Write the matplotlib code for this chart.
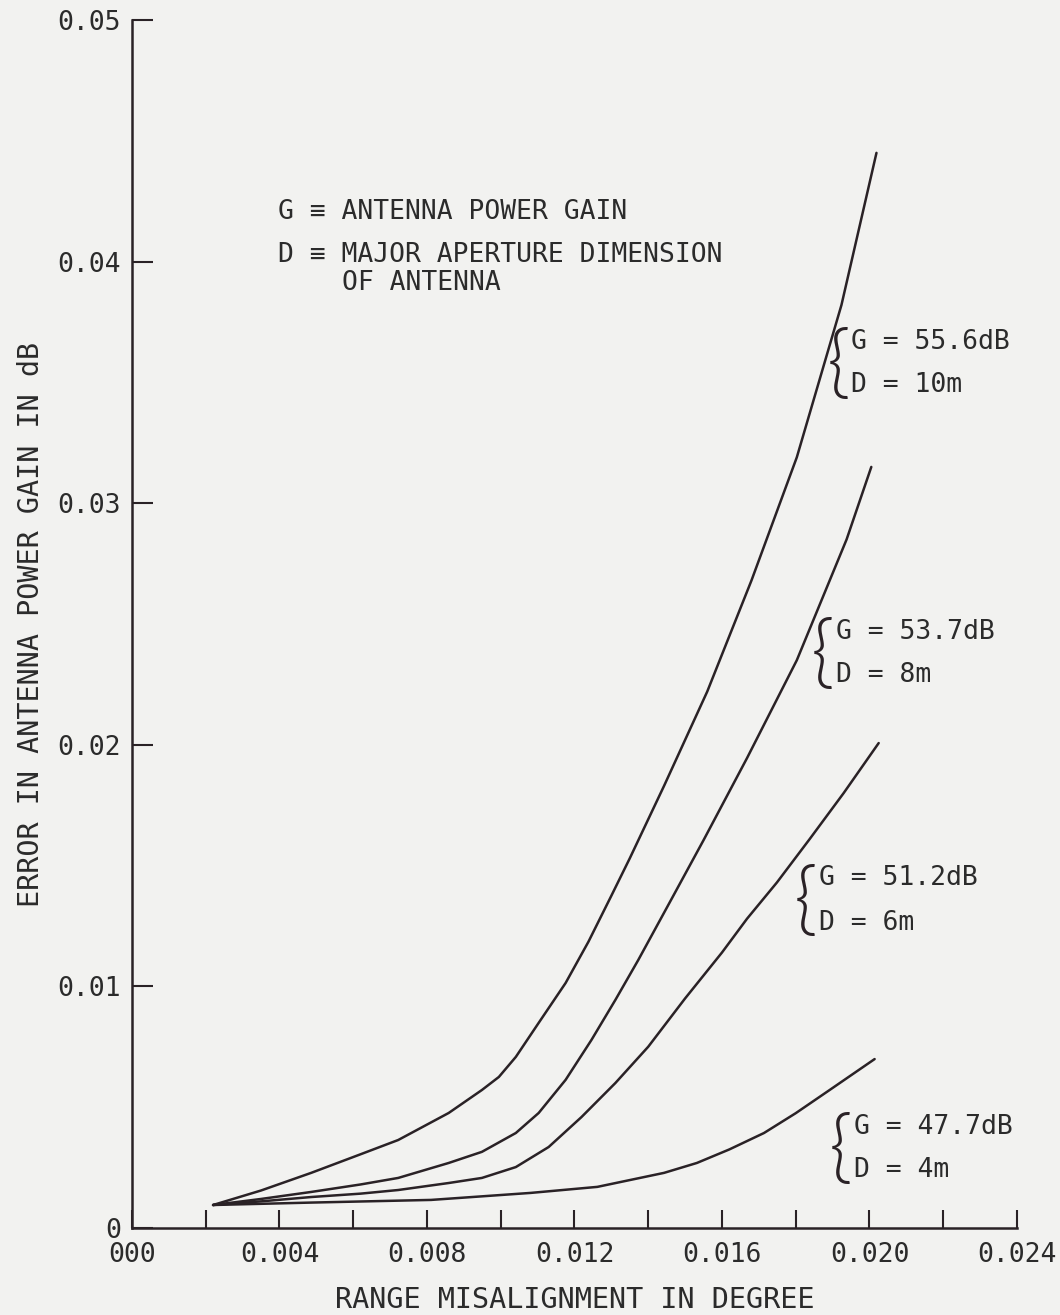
import matplotlib.pyplot as plt
from matplotlib.ticker import FixedLocator, FixedFormatter

# curve readings (x in degree, y in dB)
x_10m = [0.0022, 0.0035, 0.00486, 0.0062, 0.00722, 0.00859, 0.00949, 0.00995, 0.01041,
         0.01103, 0.01176, 0.01238, 0.0130, 0.0135, 0.01443, 0.0156, 0.0168, 0.01803,
         0.01924, 0.02019]
y_10m = [0.00095, 0.00155, 0.00228, 0.00305, 0.00364, 0.00476, 0.00571, 0.00625, 0.00708,
         0.00849, 0.01014, 0.01185, 0.01375, 0.0153, 0.0183, 0.0222, 0.0268, 0.0319,
         0.0382, 0.0445]

x_8m = [0.0022, 0.0035, 0.00486, 0.0062, 0.00722, 0.00859, 0.00949, 0.01041, 0.01103,
        0.01176, 0.01246, 0.01311, 0.01373, 0.01462, 0.01550, 0.01668, 0.01803, 0.01938,
        0.02005]
y_8m = [0.00095, 0.0012, 0.00149, 0.0018, 0.00207, 0.00269, 0.00315, 0.00393, 0.00476,
        0.00613, 0.00778, 0.00944, 0.01109, 0.01358, 0.01605, 0.01945, 0.0235, 0.0285,
        0.0315]

x_6m = [0.0022, 0.0035, 0.00486, 0.0062, 0.00722, 0.00859, 0.00949, 0.01041, 0.0113,
        0.01219, 0.01311, 0.0140, 0.0150, 0.0160, 0.01668, 0.01749, 0.01838, 0.0193,
        0.02025]
y_6m = [0.00095, 0.0011, 0.00128, 0.00142, 0.00157, 0.00186, 0.00207, 0.00252, 0.00335,
        0.00459, 0.0060, 0.0075, 0.0095, 0.0114, 0.0128, 0.0143, 0.0161, 0.0180, 0.02007]

x_4m = [0.0022, 0.00486, 0.00811, 0.01081, 0.01262, 0.01443, 0.01532, 0.0162,
        0.01714, 0.0180, 0.01892, 0.02014]
y_4m = [0.00095, 0.00105, 0.00116, 0.00145, 0.0017, 0.00228, 0.00269, 0.00325,
        0.00393, 0.00475, 0.00571, 0.00699]

curve_labels = [("G = 55.6dB", "D = 10m"), ("G = 53.7dB", "D = 8m"),
                ("G = 51.2dB", "D = 6m"), ("G = 47.7dB", "D = 4m")]

x_ticks = [0.0, 0.004, 0.008, 0.012, 0.016, 0.020, 0.024]
x_ticklabels = ["000", "0.004", "0.008", "0.012", "0.016", "0.020", "0.024"]
x_minor = [0.002, 0.006, 0.010, 0.014, 0.018, 0.022]
y_ticks = [0.0, 0.01, 0.02, 0.03, 0.04, 0.05]
y_ticklabels = ["0", "0.01", "0.02", "0.03", "0.04", "0.05"]

ink = "#2a2226"
mono = "DejaVu Sans Mono"

fig = plt.figure(figsize=(10.6, 13.15), dpi=100, facecolor="#f2f2f0")
ax = fig.add_axes([0.1245, 0.0662, 0.8349, 0.9186])
ax.set_facecolor("none")
ax.set_xlim(0, 0.024)
ax.set_ylim(0, 0.05)

for s in ["top", "right"]:
    ax.spines[s].set_visible(False)
for s in ["left", "bottom"]:
    ax.spines[s].set_linewidth(1.8)
    ax.spines[s].set_color(ink)

# curves
for xs, ys in [(x_10m, y_10m), (x_8m, y_8m), (x_6m, y_6m), (x_4m, y_4m)]:
    ax.plot(xs, ys, color=ink, lw=1.8, solid_capstyle="round", solid_joinstyle="round")

# ticks
ax.xaxis.set_major_locator(FixedLocator(x_ticks))
ax.xaxis.set_major_formatter(FixedFormatter(x_ticklabels))
ax.xaxis.set_minor_locator(FixedLocator(x_minor))
ax.yaxis.set_major_locator(FixedLocator(y_ticks))
ax.yaxis.set_major_formatter(FixedFormatter(y_ticklabels))
ax.tick_params(axis="x", which="both", direction="in", length=13, width=1.5,
               color=ink, pad=10)
ax.tick_params(axis="y", which="major", direction="in", length=15, width=1.5,
               color=ink, pad=8)
for lab in ax.get_xticklabels() + ax.get_yticklabels():
    lab.set_fontfamily(mono)
    lab.set_fontsize(19)
    lab.set_color("#2b2b2b")

ax.set_xlabel("RANGE MISALIGNMENT IN DEGREE", fontfamily=mono, fontsize=20.5,
              color="#2b2b2b", labelpad=13)
ax.set_ylabel("ERROR IN ANTENNA POWER GAIN IN dB", fontfamily=mono, fontsize=20.5,
              color="#2b2b2b", labelpad=9)

# definitions block
kw = dict(fontfamily=mono, fontsize=19, color="#2b2b2b", va="center", ha="left")
ax.text(0.00395, 0.04205, "G \u2261 ANTENNA POWER GAIN", **kw)
ax.text(0.00395, 0.04027, "D \u2261 MAJOR APERTURE DIMENSION", **kw)
ax.text(0.0057, 0.03911, "OF ANTENNA", **kw)

# curve labels with braces
label_pos = [(0.01951, 0.03667, 0.03489), (0.01908, 0.02467, 0.02289),
             (0.01862, 0.01449, 0.01262), (0.01957, 0.00418, 0.0024)]
for (g, d), (lx, gy, dy) in zip(curve_labels, label_pos):
    ax.text(lx, gy, g, **kw)
    ax.text(lx, dy, d, **kw)
    ax.text(lx - 0.00003, (gy + dy) / 2 - 0.0001, "{", fontfamily="Lato",
            fontweight=300, fontsize=58, color=ink, va="center", ha="right")

fig.savefig("out.png", dpi=100, facecolor=fig.get_facecolor())
